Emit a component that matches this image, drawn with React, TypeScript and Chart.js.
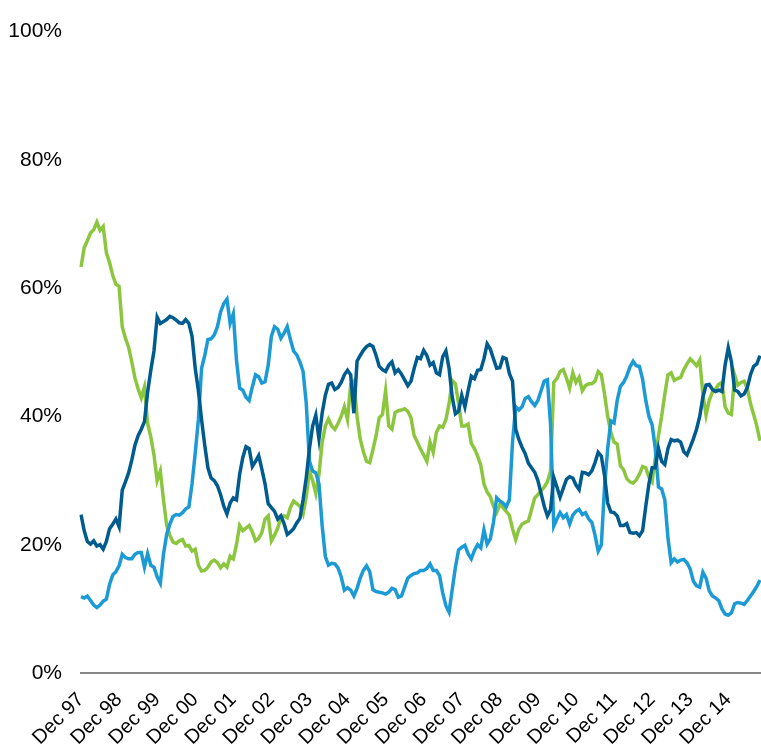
import React, { useEffect, useRef } from "react";
import { Chart, registerables } from "chart.js";

Chart.register(...registerables);

// Monthly observations, Dec 97 .. Oct 15
const MONTH_NAMES = ["Jan", "Feb", "Mar", "Apr", "May", "Jun", "Jul", "Aug", "Sep", "Oct", "Nov", "Dec"];
const START_YEAR = 1997;
const START_MONTH = 11; // December

const darkBlue = [
  24.7, 22.2, 20.5, 20.1, 20.6, 19.8, 20.0, 19.3, 20.5, 22.5,
  23.2, 24.0, 22.8, 28.5, 29.8, 31.2, 33.2, 35.5, 37.0, 38.0,
  39.2, 43.8, 47.2, 50.2, 55.5, 54.5, 54.8, 55.1, 55.6, 55.4,
  55.0, 54.6, 54.5, 55.1, 54.5, 52.5, 47.5, 44.0, 39.5, 35.5,
  32.0, 30.4, 30.0, 29.2, 27.8, 26.0, 24.8, 26.5, 27.3, 27.0,
  31.0, 33.6, 35.3, 35.0, 32.2, 33.0, 33.9, 31.8, 29.5, 26.4,
  25.8, 25.2, 24.0, 24.5, 23.3, 21.6, 22.0, 22.5, 23.4, 24.1,
  27.0, 30.5, 35.0, 38.5, 40.2, 36.5, 40.5, 43.3, 45.0, 45.2,
  44.2, 44.5, 45.3, 46.5, 47.2, 46.5, 40.5, 48.6, 49.5, 50.3,
  50.9, 51.2, 50.9, 49.5, 47.8, 47.3, 47.0, 48.0, 48.5, 46.8,
  47.3, 46.6, 45.7, 44.8, 45.5, 47.5, 49.2, 49.0, 50.3, 49.5,
  48.0, 48.4, 46.8, 46.5, 49.3, 50.2, 47.5, 43.0, 40.4, 40.8,
  43.3, 41.5, 44.0, 46.3, 45.9, 47.2, 47.3, 49.0, 51.3, 50.5,
  49.0, 47.5, 47.6, 49.2, 49.0, 46.7, 45.5, 38.0, 36.4, 35.2,
  34.2, 32.7, 32.0, 31.3, 30.0, 28.0, 26.0, 24.5, 25.5, 30.5,
  29.0, 27.4, 28.8, 30.2, 30.6, 30.4, 29.3, 28.6, 31.3, 31.2,
  30.9, 31.5, 32.8, 34.4, 33.8, 30.8, 26.5, 25.1, 25.0, 24.5,
  23.0, 23.0, 23.3, 21.9, 21.8, 21.9, 21.4, 22.2, 26.0, 29.5,
  32.0, 32.0, 35.0, 33.0, 32.5, 35.0, 36.4, 36.2, 36.3, 36.0,
  34.5, 34.0, 35.2, 36.5, 38.0, 40.0, 43.0, 44.9, 45.0, 44.2,
  43.9, 44.1, 43.9, 48.0, 50.7, 48.5, 44.1, 43.9, 43.2, 43.5,
  44.5, 46.5, 47.8, 48.2, 49.5,
];

const lightBlue = [
  11.9, 11.7, 12.0, 11.3, 10.6, 10.2, 10.6, 11.2, 11.5, 13.8,
  15.3, 15.8, 16.7, 18.5, 18.0, 17.8, 17.8, 18.5, 18.8, 18.8,
  16.5, 18.6, 16.8, 16.5, 15.0, 14.0, 18.5, 21.6, 23.2, 24.4,
  24.7, 24.6, 25.0, 25.6, 25.9, 29.5, 34.3, 39.5, 47.5, 49.5,
  52.0, 52.1, 52.7, 54.0, 56.3, 57.6, 58.3, 54.5, 56.0, 48.8,
  44.4, 44.1, 43.0, 42.5, 44.6, 46.5, 46.2, 45.2, 45.4, 48.0,
  52.5, 54.0, 53.6, 52.2, 53.0, 54.0, 52.0, 50.2, 49.6, 48.5,
  47.0, 42.0, 33.0, 31.5, 31.2, 29.5, 23.0, 18.2, 16.8, 17.1,
  17.0, 16.4, 15.0, 12.9, 13.3, 12.9, 12.0, 13.2, 14.8, 16.0,
  16.7, 15.8, 13.0, 12.7, 12.6, 12.5, 12.3, 12.6, 13.2, 13.0,
  11.8, 12.0, 13.4, 14.8, 15.2, 15.5, 15.6, 16.0, 16.0, 16.3,
  17.0, 16.0, 16.0, 15.2, 12.5, 10.5, 9.5, 13.0, 16.5, 19.2,
  19.6, 19.9, 18.6, 17.8, 19.1, 20.0, 19.5, 22.3, 20.1, 20.9,
  23.5, 27.3, 26.8, 26.5, 25.9, 27.0, 36.0, 41.5, 41.0, 41.5,
  42.8, 43.1, 42.3, 41.7, 42.5, 44.0, 45.5, 45.7, 38.7, 22.9,
  24.0, 25.0, 24.2, 24.7, 23.2, 24.6, 25.2, 25.5, 24.7, 25.0,
  24.0, 23.5, 21.5, 19.0, 20.0, 29.0, 35.0, 39.3, 39.0, 42.5,
  44.7, 45.3, 46.3, 47.7, 48.6, 47.9, 47.8, 45.8, 42.5, 40.0,
  38.7, 35.0, 29.0, 28.7, 27.0, 21.0, 17.2, 17.8, 17.3, 17.6,
  17.7, 17.2, 16.2, 14.3, 13.6, 13.4, 15.7, 14.8, 12.8, 12.0,
  11.7, 11.3, 10.0, 9.2, 9.0, 9.4, 10.8, 11.0, 10.9, 10.7,
  11.3, 12.0, 12.7, 13.5, 14.5,
];

const green = [
  63.3, 66.3, 67.4, 68.6, 69.1, 70.3, 69.0, 69.6, 65.5, 64.0,
  62.0, 60.6, 60.3, 54.0, 52.2, 50.8, 48.5, 46.0, 44.3, 42.9,
  44.6, 38.9, 36.8, 34.0, 30.0, 31.5, 27.0, 23.0, 21.5, 20.4,
  20.2, 20.6, 20.8, 19.8, 19.9, 19.0, 19.3, 16.8, 15.9, 16.0,
  16.5, 17.3, 17.6, 17.2, 16.4, 17.0, 16.5, 18.2, 17.8, 20.0,
  23.0, 22.2, 22.6, 23.0, 22.0, 20.6, 21.0, 21.9, 24.0, 24.5,
  20.6, 21.5, 22.6, 24.2, 24.5, 24.2, 25.8, 26.8, 26.4, 26.0,
  24.8, 27.5, 31.5, 30.0, 28.0, 31.0, 35.9, 38.5, 39.6, 38.5,
  38.0, 38.9, 40.0, 41.5, 39.5, 45.0, 45.5, 40.0, 36.5, 34.5,
  33.0, 32.8, 34.8, 37.0, 39.8, 40.3, 44.0, 38.5, 38.0, 40.6,
  40.9, 41.0, 41.2, 40.8, 39.8, 37.0, 36.0, 34.9, 34.0, 33.0,
  36.0, 34.4, 37.5, 38.5, 38.3, 39.5, 42.0, 45.6, 45.1, 42.0,
  38.5, 38.5, 38.8, 35.8, 35.0, 33.8, 32.4, 29.5, 28.2, 27.5,
  26.0, 25.0, 26.3, 25.8, 25.2, 24.6, 22.5, 20.8, 22.4, 23.2,
  23.5, 23.7, 25.5, 27.3, 27.8, 28.4, 29.0, 29.8, 31.5, 45.3,
  45.9, 47.0, 47.3, 46.0, 44.4, 46.8, 45.3, 46.1, 44.0, 44.8,
  45.1, 45.1, 45.5, 47.0, 46.5, 43.5, 40.0, 37.5, 36.0, 35.7,
  32.3, 31.7, 30.3, 29.8, 29.6, 30.1, 31.0, 32.2, 32.0, 30.5,
  29.8, 33.5, 37.0, 40.0, 43.5, 46.5, 46.8, 45.6, 45.9, 46.1,
  47.3, 48.2, 49.0, 48.5, 47.9, 48.8, 43.5, 40.2, 42.5, 43.8,
  44.3, 45.0, 45.3, 41.5, 40.5, 40.3, 46.5, 44.9, 45.3, 45.5,
  44.4, 42.0, 40.3, 38.5, 36.2,
];

const Y_TICKS = [0, 20, 40, 60, 80, 100];

const categories = darkBlue.map((_, i) => {
  const m = START_MONTH + i;
  const year = START_YEAR + Math.floor(m / 12);
  return MONTH_NAMES[m % 12] + " " + String(year % 100).padStart(2, "0");
});

const FAMILY = "'Liberation Sans', Arial, sans-serif";

export default function App() {
  const ref = useRef<HTMLCanvasElement | null>(null);

  useEffect(() => {
    if (!ref.current) return;
    const chart = new Chart(ref.current, {
      type: "line",
      data: {
        labels: categories,
        datasets: [
          { label: "Series A", data: darkBlue, borderColor: "#005b8f", borderWidth: 3.5, pointRadius: 0, tension: 0, fill: false },
          { label: "Series B", data: lightBlue, borderColor: "#1c9ad6", borderWidth: 3.5, pointRadius: 0, tension: 0, fill: false },
          { label: "Series C", data: green, borderColor: "#8cc63f", borderWidth: 3.5, pointRadius: 0, tension: 0, fill: false },
        ],
      },
      options: {
        animation: false,
        responsive: false,
        maintainAspectRatio: false,
        layout: { padding: { top: 20, right: 1, left: 0, bottom: 0 } },
        plugins: { legend: { display: false }, tooltip: { enabled: false } },
        scales: {
          x: {
            type: "category",
            offset: false,
            grid: { display: false, drawTicks: false },
            border: { display: true, color: "#868686", width: 2 },
            ticks: {
              autoSkip: false,
              maxRotation: 45,
              minRotation: 45,
              padding: 15,
              color: "#000",
              font: { family: FAMILY, size: 20 },
              callback: (_v: any, i: number) => (categories[i].startsWith("Dec") ? categories[i] : ""),
            },
            afterFit: (s: any) => {
              s.height = 79;
              s.paddingLeft = 0;
              s.paddingRight = 0;
            },
          },
          y: {
            min: 0,
            max: 100,
            afterBuildTicks: (s: any) => {
              s.ticks = Y_TICKS.map((v) => ({ value: v }));
            },
            ticks: {
              padding: 19,
              color: "#000",
              font: { family: FAMILY, size: 21 },
              callback: (v: any) => v + "%",
            },
            grid: { display: false, drawTicks: false },
            border: { display: false },
            afterFit: (s: any) => {
              s.width = 81;
            },
          },
        },
      },
    });
    return () => chart.destroy();
  }, []);

  return (
    <div style={{ position: "absolute", left: 0, top: 0, width: 761, height: 752, background: "#fff" }}>
      <canvas ref={ref} width={761} height={752} style={{ display: "block" }} />
    </div>
  );
}
